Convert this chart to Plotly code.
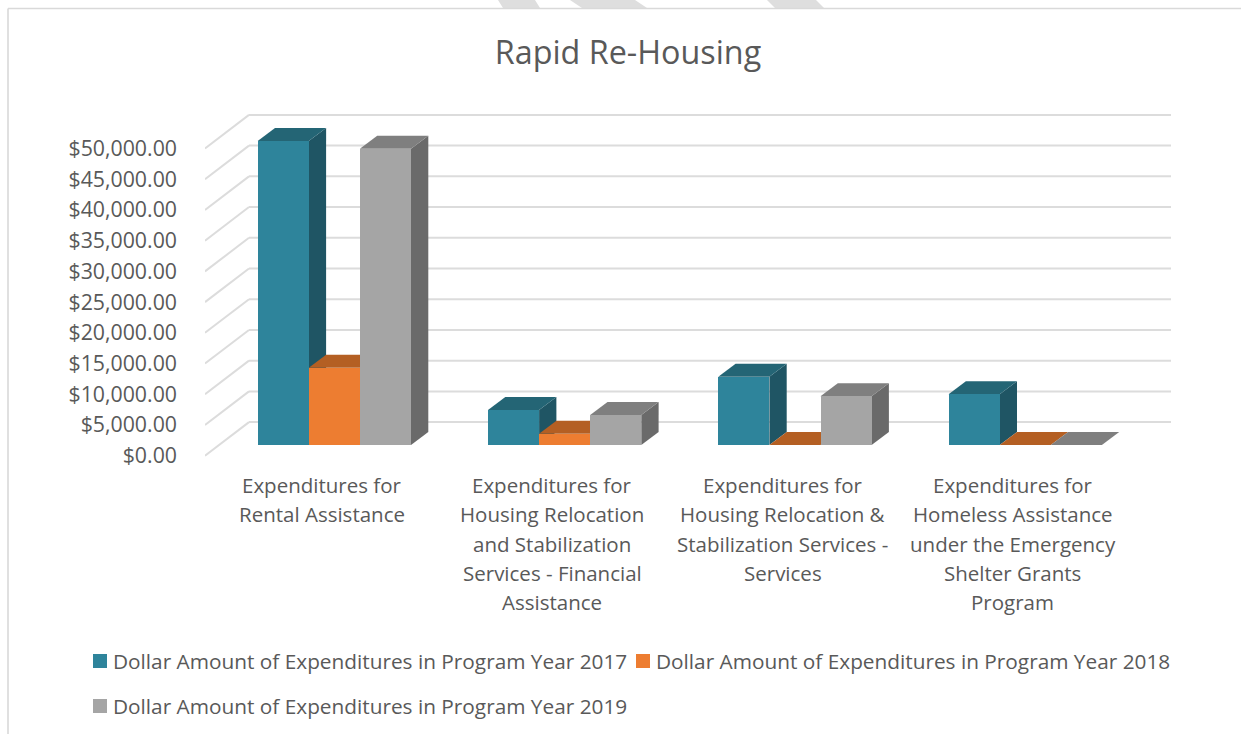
import plotly.graph_objects as go

# ---------- data ----------
categories = [
    "Expenditures for Rental Assistance",
    "Expenditures for Housing Relocation and Stabilization Services - Financial Assistance",
    "Expenditures for Housing Relocation & Stabilization Services - Services",
    "Expenditures for Homeless Assistance under the Emergency Shelter Grants Program",
]
category_lines = [
    ["Expenditures for", "Rental Assistance"],
    ["Expenditures for", "Housing Relocation", "and Stabilization", "Services - Financial", "Assistance"],
    ["Expenditures for", "Housing Relocation &", "Stabilization Services -", "Services"],
    ["Expenditures for", "Homeless Assistance", "under the Emergency", "Shelter Grants", "Program"],
]
series_names = [
    "Dollar Amount of Expenditures in Program Year 2017",
    "Dollar Amount of Expenditures in Program Year 2018",
    "Dollar Amount of Expenditures in Program Year 2019",
]
values_2017 = [49480, 5700, 11120, 8250]
values_2018 = [12580, 1840, 0, 0]
values_2019 = [48230, 4880, 7930, 0]
y_ticks = [0, 5000, 10000, 15000, 20000, 25000, 30000, 35000, 40000, 45000, 50000]
title_text = "Rapid Re-Housing"

front_colors = ["#2E849B", "#ED7D31", "#A5A5A5"]
side_colors = ["#1F5564", "#B45F23", "#6A6A6A"]
top_colors = ["#246575", "#B45F23", "#7F7F7F"]
GRID = "#DCDCDC"
TEXT = "#595959"
FONT = "Open Sans"

# ---------- geometry (scale of the axes) ----------
W, H = 1241, 734
LEFT = 205            # axis position in the page
PX_PER_VALUE = 30.72 / 5000
Y0_PX = 455.7         # page row of value 0 on the front plane
CAT0_PX = 320.0
PX_PER_CAT = 230.3


def ux(px):
    return px / PX_PER_CAT


def uy(px):
    return px / PX_PER_VALUE


def vy(py):
    return (Y0_PX - py) / PX_PER_VALUE


def cx(px):
    return (px - CAT0_PX) / PX_PER_CAT


def paper_x(px):
    return (px - LEFT) / (W - LEFT)


def paper_y(py):
    return 1 - py / H


BAR_W = ux(51.1)
BAR_OFF = ux(-62.3)
BASE = uy(Y0_PX - 445)
DEPTH_X, DEPTH_Y = ux(17.3), uy(13)
WALL_X, WALL_Y = ux(44), uy(33.6)
X_FRONT = cx(205)
X_RIGHT = cx(1171)

shapes = []


def poly(points, color, xref="x", yref="y", layer="below", line=None):
    path = "M " + " L ".join(f"{a:.5f},{b:.5f}" for a, b in points) + " Z"
    shapes.append(dict(type="path", path=path, xref=xref, yref=yref, layer=layer,
                       fillcolor=color, line=line or dict(width=0)))


# page furniture: watermark bands cut off by the chart frame, then the frame
for band in [[(498, 0), (535, 0), (540, 8), (503, 8)],
             [(570, 0), (635, 0), (647, 8), (582, 8)],
             [(767, 0), (816, 0), (824, 8), (775, 8)]]:
    poly([(paper_x(a), paper_y(b)) for a, b in band], "#DEDEDE", "paper", "paper")
for x0, y0, x1, y1 in [(8, 8.5, W, 8.5), (8, 8.5, 8, H)]:
    shapes.append(dict(type="line", xref="paper", yref="paper", layer="below",
                       x0=paper_x(x0), y0=paper_y(y0), x1=paper_x(x1), y1=paper_y(y1),
                       line=dict(color="#D9D9D9", width=1.6)))

# walls: one diagonal and one horizontal per tick
for t in y_ticks:
    for a, b, c, d in [(X_FRONT, t, X_FRONT + WALL_X, t + WALL_Y),
                       (X_FRONT + WALL_X, t + WALL_Y, X_RIGHT, t + WALL_Y)]:
        shapes.append(dict(type="line", xref="x", yref="y", layer="below",
                           x0=a, y0=b, x1=c, y1=d, line=dict(color=GRID, width=2)))

series = [values_2017, values_2018, values_2019]
fig = go.Figure()

# column depth faces, left to right so that each one hides the previous one
for c in range(len(categories)):
    for s, vals in enumerate(series):
        x0 = c + BAR_OFF + s * BAR_W
        x1 = x0 + BAR_W
        top = BASE + vals[c]
        poly([(x1, BASE), (x1, top), (x1 + DEPTH_X, top + DEPTH_Y), (x1 + DEPTH_X, BASE + DEPTH_Y)],
             side_colors[s])
        poly([(x0, top), (x1, top), (x1 + DEPTH_X, top + DEPTH_Y), (x0 + DEPTH_X, top + DEPTH_Y)],
             top_colors[s])

# column front faces
for s, vals in enumerate(series):
    fig.add_trace(go.Bar(
        x=list(range(len(categories))), y=vals, base=[BASE] * len(vals),
        width=BAR_W, offset=BAR_OFF + s * BAR_W,
        name=series_names[s], marker=dict(color=front_colors[s], line=dict(width=0)),
        customdata=categories, hovertemplate="%{customdata}<br>%{y:$,.2f}<extra>%{fullData.name}</extra>",
        showlegend=False,
    ))

annotations = []
# category labels
LABEL_FIRST_PX, LABEL_STEP_PX, LABEL_SHIFT_PX = 485, 29.3, 2
for c, lines in enumerate(category_lines):
    for n, text in enumerate(lines):
        annotations.append(dict(
            x=c + ux(LABEL_SHIFT_PX), y=vy(LABEL_FIRST_PX + n * LABEL_STEP_PX), xref="x", yref="y",
            text=text, showarrow=False, xanchor="center", yanchor="middle",
            font=dict(family=FONT, size=20.5, color=TEXT)))

# legend
legend_rows = [(93, 661), (636, 661), (93, 706)]
for s, (lx, ly) in enumerate(legend_rows):
    shapes.append(dict(type="rect", xref="paper", yref="paper", layer="below",
                       x0=paper_x(lx), x1=paper_x(lx + 14), y0=paper_y(ly + 7), y1=paper_y(ly - 7),
                       fillcolor=front_colors[s], line=dict(width=0)))
    annotations.append(dict(
        x=paper_x(lx + 18), y=paper_y(ly - 0.5), xref="paper", yref="paper", text=series_names[s],
        showarrow=False, xanchor="left", yanchor="middle",
        font=dict(family=FONT, size=20.8, color=TEXT)))

fig.update_layout(
    width=W, height=H, margin=dict(l=LEFT, r=0, t=0, b=0),
    paper_bgcolor="white", plot_bgcolor="rgba(0,0,0,0)",
    title=dict(text=title_text, x=628 / W, xanchor="center", xref="container", y=1 - 53 / H, yanchor="middle",
               yref="container", font=dict(family=FONT, size=32.3, color=TEXT)),
    bargap=0, showlegend=False, shapes=shapes, annotations=annotations,
    xaxis=dict(range=[cx(LEFT), cx(W)], visible=False, fixedrange=True),
    yaxis=dict(range=[vy(H), vy(0)], tickmode="array", tickvals=y_ticks, tickformat="$,.2f",
               showgrid=False, zeroline=False, showline=False, ticks="", ticklabelstandoff=27,
               tickfont=dict(family=FONT, size=21.3, color=TEXT), fixedrange=True),
)

fig.write_html("out.html", config=dict(displayModeBar=False),
               post_script="document.body.style.margin='0';document.body.style.overflow='hidden';")
